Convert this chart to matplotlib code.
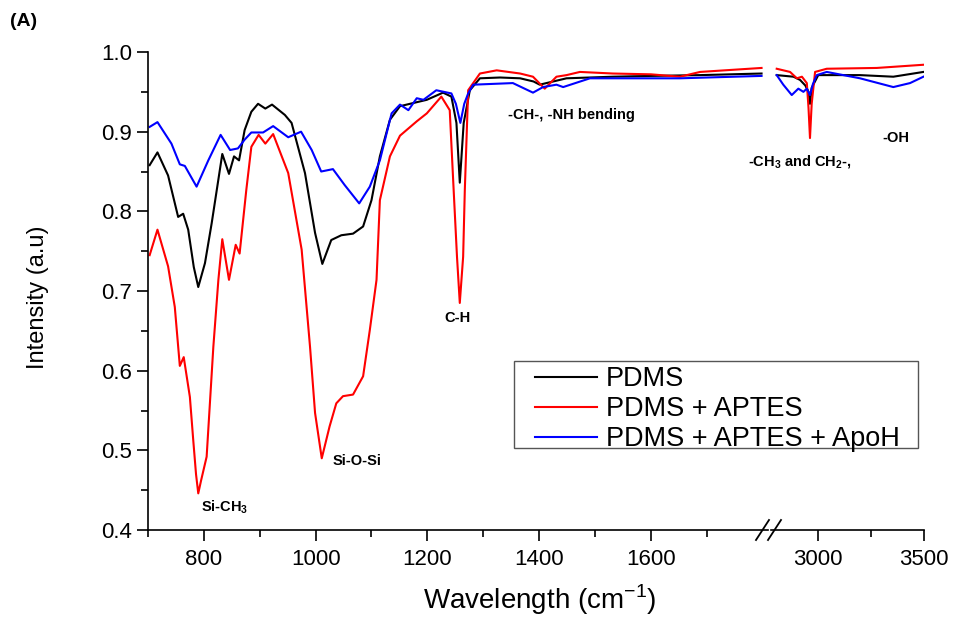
import numpy as np
import matplotlib.pyplot as plt
from matplotlib.ticker import MultipleLocator, FixedLocator
from matplotlib.patches import Rectangle

plt.rcParams['font.family'] = ['Liberation Sans', 'DejaVu Sans']
plt.rcParams['mathtext.fontset'] = 'custom'
plt.rcParams['mathtext.rm'] = 'Liberation Sans'
plt.rcParams['mathtext.bf'] = 'Liberation Sans:bold'

labels = ['PDMS', 'PDMS + APTES', 'PDMS + APTES + ApoH']
colors = ['#000000', '#ff0000', '#0000ff']

# fingerprint region (700 - 1800 cm-1)
pdms_x = [703, 717, 736, 754, 763, 772, 782, 790, 802, 814, 833, 845, 854, 863, 873, 885, 897, 910, 922, 945, 957,
          981, 999, 1012, 1028, 1046, 1067, 1085, 1100, 1115, 1133, 1151, 1175, 1199, 1228, 1243, 1252, 1258, 1265,
          1276, 1294, 1330, 1366, 1390, 1401, 1425, 1449, 1532, 1600, 1688, 1798]
pdms_y = [0.858, 0.874, 0.845, 0.793, 0.797, 0.777, 0.730, 0.705, 0.735, 0.785, 0.872, 0.847, 0.869, 0.864, 0.902,
          0.925, 0.935, 0.929, 0.934, 0.921, 0.911, 0.848, 0.773, 0.734, 0.764, 0.770, 0.772, 0.781, 0.814, 0.869,
          0.915, 0.932, 0.936, 0.940, 0.949, 0.944, 0.911, 0.836, 0.911, 0.952, 0.967, 0.968, 0.967, 0.963, 0.959,
          0.963, 0.967, 0.969, 0.970, 0.971, 0.973]

aptes_x = [703, 717, 736, 748, 757, 764, 775, 781, 786, 790, 795, 805, 817, 826, 833, 845, 857, 864, 876, 885,
           898, 910, 924, 951, 975, 990, 999, 1011, 1025, 1037, 1049, 1067, 1085, 1097, 1109, 1115, 1133, 1151,
           1181, 1199, 1225, 1240, 1247, 1253, 1258, 1264, 1267, 1273, 1294, 1324, 1366, 1389, 1410, 1431, 1449,
           1473, 1532, 1600, 1652, 1688, 1798]
aptes_y = [0.745, 0.777, 0.731, 0.680, 0.606, 0.617, 0.567, 0.513, 0.470, 0.446, 0.462, 0.492, 0.630, 0.714,
           0.765, 0.714, 0.758, 0.747, 0.827, 0.881, 0.896, 0.885, 0.897, 0.848, 0.752, 0.630, 0.547, 0.490, 0.530,
           0.559, 0.568, 0.570, 0.593, 0.651, 0.714, 0.814, 0.869, 0.895, 0.913, 0.923, 0.944, 0.927, 0.827, 0.743,
           0.685, 0.743, 0.827, 0.952, 0.973, 0.977, 0.973, 0.969, 0.954, 0.969, 0.971, 0.975, 0.973, 0.972, 0.969,
           0.975, 0.980]

apoh_x = [703, 717, 742, 757, 766, 787, 808, 830, 847, 861, 873, 885, 906, 924, 951, 974, 993, 1010, 1031, 1052,
          1078, 1097, 1115, 1136, 1151, 1166, 1181, 1193, 1216, 1243, 1251, 1259, 1266, 1273, 1282, 1353, 1389, 1407,
          1431, 1443, 1491, 1652, 1798]
apoh_y = [0.906, 0.912, 0.885, 0.859, 0.857, 0.831, 0.864, 0.896, 0.877, 0.879, 0.890, 0.899, 0.899, 0.907, 0.893,
          0.900, 0.877, 0.850, 0.853, 0.833, 0.810, 0.831, 0.864, 0.923, 0.934, 0.927, 0.942, 0.940, 0.952, 0.948,
          0.935, 0.911, 0.935, 0.948, 0.959, 0.961, 0.949, 0.956, 0.959, 0.956, 0.967, 0.967, 0.970]

# high wavenumber region (2800 - 3500 cm-1)
pdms_hi_x = [2805, 2884, 2915, 2940, 2955, 2962, 2970, 3001, 3100, 3198, 3355, 3497]
pdms_hi_y = [0.971, 0.969, 0.965, 0.958, 0.950, 0.935, 0.955, 0.971, 0.971, 0.971, 0.969, 0.975]

aptes_hi_x = [2805, 2868, 2900, 2924, 2947, 2955, 2962, 2970, 2986, 3041, 3277, 3497]
aptes_hi_y = [0.979, 0.975, 0.967, 0.969, 0.961, 0.930, 0.892, 0.935, 0.975, 0.979, 0.980, 0.984]

apoh_hi_x = [2805, 2836, 2876, 2907, 2931, 2947, 2962, 2976, 2994, 3041, 3198, 3355, 3434, 3497]
apoh_hi_y = [0.971, 0.959, 0.946, 0.954, 0.950, 0.954, 0.946, 0.960, 0.971, 0.975, 0.967, 0.956, 0.961, 0.969]

lo = [(pdms_x, pdms_y), (aptes_x, aptes_y), (apoh_x, apoh_y)]
hi = [(pdms_hi_x, pdms_hi_y), (aptes_hi_x, aptes_hi_y), (apoh_hi_x, apoh_hi_y)]

fig = plt.figure(figsize=(9.54, 6.17), dpi=100)
ax1 = fig.add_axes([0.1551, 0.141, 0.6502, 0.7747])
ax2 = fig.add_axes([0.8086, 0.141, 0.1600, 0.7747])

lines = []
for (x, y), c, lab in zip(lo, colors, labels):
    l, = ax1.plot(x, y, color=c, lw=1.5, label=lab, solid_joinstyle='round')
    lines.append(l)
for (x, y), c in zip(hi, colors):
    ax2.plot(x, y, color=c, lw=1.5, solid_joinstyle='round')

ax1.set_xlim(700, 1810)
ax2.set_xlim(2780, 3500)
for ax in (ax1, ax2):
    ax.set_ylim(0.4, 1.0)
    ax.spines['top'].set_visible(False)
    ax.spines['right'].set_visible(False)
    ax.spines['bottom'].set_linewidth(1.2)
    ax.spines['left'].set_linewidth(1.2)
    ax.tick_params(which='major', direction='out', length=8, width=1.2, labelsize=16)
    ax.tick_params(which='minor', direction='out', length=5, width=1.2)
    ax.patch.set_alpha(0)

ax1.xaxis.set_major_locator(FixedLocator([800, 1000, 1200, 1400, 1600]))
ax1.xaxis.set_minor_locator(FixedLocator([700, 900, 1100, 1300, 1500, 1700]))
ax1.yaxis.set_major_locator(MultipleLocator(0.1))
ax1.yaxis.set_minor_locator(MultipleLocator(0.05))
ax1.yaxis.set_major_formatter(plt.FormatStrFormatter('%.1f'))
ax1.tick_params(axis='x', pad=6)

ax2.spines['left'].set_visible(False)
ax2.set_yticks([])
ax2.set_xticks([3000, 3500])
ax2.xaxis.set_minor_locator(FixedLocator([3250]))
ax2.tick_params(axis='x', pad=6)

# break marks on the x axis
for x0 in (756, 768):
    fig.add_artist(plt.Line2D([x0 / 954, (x0 + 13) / 954], [(617 - 540) / 617, (617 - 520) / 617],
                              color='black', lw=1.3, transform=fig.transFigure))

fig.text(38 / 954, 1 - 297 / 617, 'Intensity (a.u)', fontsize=17, rotation=90, ha='center', va='center')
fig.text(540 / 954, 1 - 600 / 617, 'Wavelength (cm$^{-1}$)', fontsize=20, ha='center', va='center')
fig.text(10 / 954, 1 - 21 / 617, '(A)', fontsize=14, fontweight='bold', va='center')

ann = dict(fontsize=10.5, fontweight='bold', va='center')
ax1.text(795, 0.429, r'Si-CH$_\mathbf{3}$', **ann)
ax1.text(1031, 0.486, 'Si-O-Si', **ann)
ax1.text(1231, 0.666, 'C-H', **ann)
ax1.text(1344, 0.921, '-CH-, -NH bending', **ann)
ax2.text(2670, 0.861, r'-CH$_\mathbf{3}$ and CH$_\mathbf{2}$-,', clip_on=False, **ann)
ax2.text(3302, 0.892, '-OH', **ann)

# legend box drawn separately so the entries can sit with the reference padding
fig.add_artist(Rectangle((514 / 954, 1 - 448 / 617), 404 / 954, 87 / 617, transform=fig.transFigure,
                         facecolor='white', edgecolor='#555555', lw=1.0, zorder=5))
leg = fig.legend(handles=lines, loc='upper left', bbox_to_anchor=(535 / 954, 1 - 366 / 617),
                 fontsize=19.5, frameon=False, handlelength=2.3, handletextpad=0.33,
                 labelspacing=0.15, borderpad=0, borderaxespad=0)
leg.set_zorder(6)

fig.savefig('out.png', dpi=100)
